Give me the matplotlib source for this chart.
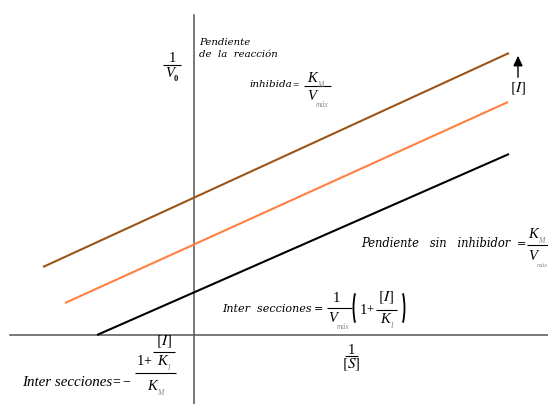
import matplotlib
matplotlib.use("Agg")
import matplotlib.pyplot as plt
from matplotlib.patches import Arc

plt.rcParams["mathtext.fontset"] = "stix"

# =============================================================================
# Data: three parallel Lineweaver-Burk lines (x = 1/[S], y = 1/V0),
# read off the picture (arbitrary units, origin at the axes crossing)
# =============================================================================
LINE_NAMES = ["inhibida (mayor [I])", "inhibida", "sin inhibidor"]
X_START = [-151, -129, -97]
X_END = [315, 314, 315]
Y_START = [68, 32, 0]
Y_END = [282, 233, 181]

# =============================================================================
# Style
# =============================================================================
LINE_COLORS = ["#9b5418", "#ff8040", "#000000"]
AXIS_COLOR = "#555555"
SUB_COLOR = "#8c8c8c"
BOOK = "DejaVu Serif"
TIMES = "Liberation Serif"

W, H = 548, 404
OX, OY = 194, 335  # pixel position of the origin

fig = plt.figure(figsize=(W / 100, H / 100), dpi=100)
ax = fig.add_axes([0, 0, 1, 1])
ax.set_xlim(-OX, W - OX)
ax.set_ylim(OY - H, OY)
ax.axis("off")

# axes of the diagram
ax.plot([-184, W - OX], [0, 0], color=AXIS_COLOR, lw=1.1)
ax.plot([0, 0], [OY - H, OY - 15], color=AXIS_COLOR, lw=1.1)

for x0, x1, y0, y1, c in zip(X_START, X_END, Y_START, Y_END, LINE_COLORS):
    ax.plot([x0, x1], [y0, y1], color=c, lw=1.5, solid_capstyle="butt")

# overlay in pixel coordinates for the annotations
ov = fig.add_axes([0, 0, 1, 1])
ov.set_xlim(0, W)
ov.set_ylim(H, 0)
ov.axis("off")


def txt(x, y, s, size, family=BOOK, style="italic", ha="left", va="baseline",
        color="black", weight="normal"):
    return ov.text(x, y, s, fontsize=size, family=family, style=style, ha=ha,
                   va=va, color=color, weight=weight)


def bar(x0, x1, y, lw=0.8):
    ov.plot([x0, x1], [y, y], color="black", lw=lw, solid_capstyle="butt")


def sym(x, y, base, sub, size=10.5, subsize=5.5, dy=-1.5):
    t = txt(x, y, base, size, family=TIMES)
    ov.annotate(sub, xy=(1, 0), xycoords=t, xytext=(0.2, dy),
                textcoords="offset points", fontsize=subsize, family=TIMES,
                style="italic", color=SUB_COLOR, ha="left", va="baseline")
    return t


def paren(xc, yc, w, h, left=True):
    if left:
        a = Arc((xc, yc), w, h, theta1=105, theta2=255, color="black", lw=1.3)
    else:
        a = Arc((xc, yc), w, h, theta1=-75, theta2=75, color="black", lw=1.3)
    ov.add_patch(a)


# 1 / V0
txt(172, 62, "1", 10.5, family=TIMES, style="normal", ha="center")
bar(163, 181, 64.5)
t = txt(165, 77, "V", 10.5, family=TIMES)
ov.annotate("0", xy=(1, 0), xycoords=t, xytext=(0, -1),
            textcoords="offset points", fontsize=6, family=TIMES,
            weight="bold", va="baseline")

# slope of the inhibited line
txt(199, 45, "Pendiente", 7.3)
txt(199, 57, "de  la  reacción", 7.3)
txt(249, 87, "inhibida", 7.5)
txt(292, 87, "=", 8, family=TIMES, style="normal")
sym(307, 82, "K", "M")
bar(304, 331, 86)
sym(307, 100, "V", "máx", dy=-3)

# arrow for increasing [I]
ov.annotate("", xy=(518, 53), xytext=(518, 80),
            arrowprops=dict(arrowstyle="-|>,head_width=0.28,head_length=0.6",
                            color="black", lw=1))
txt(518, 89, r"$[I]$", 11, style="normal", ha="center", va="center")

# slope without inhibitor
txt(361, 247, "Pendiente   sin   inhibidor", 8.3)
txt(517, 247, "=", 8, style="normal")
sym(528, 238, "K", "M")
bar(527, 548, 245)
sym(528, 260, "V", "máx", subsize=4.8, dy=-3)

# y intercept
txt(222, 312, "Inter  secciones", 8)
txt(314, 312, "=", 8, style="normal")
txt(336, 302, "1", 10.5, family=TIMES, style="normal", ha="center")
bar(327, 352, 308)
sym(328, 322, "V", "máx", dy=-3)
paren(359, 308, 11, 42, left=True)
txt(360, 314, "1", 10.5, family=TIMES, style="normal")
txt(366, 314, "+", 9, family=TIMES, style="normal")
txt(386, 298, r"$[I]$", 11, style="normal", ha="center", va="center")
bar(376, 397, 310)
sym(380, 323, "K", "I")
paren(399, 308, 11, 42, left=False)

# 1 / [S]
txt(351, 354, "1", 10.5, family=TIMES, style="normal", ha="center")
bar(345, 358, 356)
txt(351, 365, r"$[S]$", 11, style="normal", ha="center", va="center")

# x intercept
txt(22, 386, "Inter secciones", 10.8, family=TIMES)
txt(112, 385, "=", 10, family=TIMES, style="normal")
txt(122, 385, "\u2212", 10, family=TIMES, style="normal")
txt(137, 365, "1", 10.5, family=TIMES, style="normal")
txt(143, 365, "+", 10, family=TIMES, style="normal")
txt(164, 342, r"$[I]$", 11, style="normal", ha="center", va="center")
bar(153, 175, 352)
sym(157, 365, "K", "I")
bar(135, 176, 373)
sym(147, 390, "K", "M")

fig.savefig("out.png", dpi=100)
